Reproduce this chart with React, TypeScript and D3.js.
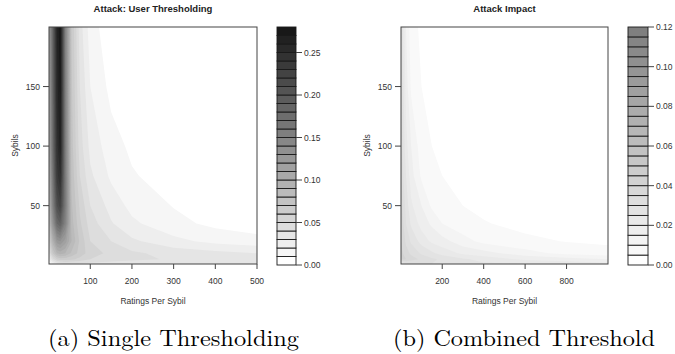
import React from "react";
import * as d3 from "d3";

// ---------- data ----------
const SYBILS = [1, 5, 10, 20, 35, 50, 75, 100, 150, 200];

const RATINGS_A = [1, 10, 20, 28, 40, 55, 75, 100, 150, 200, 300, 400, 500];
// rows follow SYBILS (bottom -> top), columns follow RATINGS_A
const IMPACT_A = [
  [0.010, 0.020, 0.030, 0.035, 0.038, 0.038, 0.037, 0.036, 0.035, 0.035, 0.034, 0.034, 0.034],
  [0.025, 0.045, 0.060, 0.065, 0.065, 0.062, 0.057, 0.050, 0.045, 0.042, 0.039, 0.037, 0.035],
  [0.040, 0.070, 0.090, 0.095, 0.090, 0.078, 0.066, 0.055, 0.047, 0.042, 0.036, 0.033, 0.030],
  [0.060, 0.095, 0.125, 0.130, 0.115, 0.090, 0.068, 0.050, 0.040, 0.032, 0.023, 0.017, 0.014],
  [0.080, 0.130, 0.180, 0.190, 0.150, 0.085, 0.062, 0.045, 0.031, 0.022, 0.013, 0.0075, 0.004],
  [0.090, 0.150, 0.210, 0.225, 0.160, 0.082, 0.058, 0.040, 0.026, 0.017, 0.0095, 0.005, 0.002],
  [0.100, 0.165, 0.235, 0.250, 0.160, 0.078, 0.050, 0.032, 0.018, 0.011, 0.005, 0.002, 0.000],
  [0.110, 0.175, 0.245, 0.265, 0.158, 0.075, 0.045, 0.027, 0.014, 0.008, 0.003, 0.001, 0.000],
  [0.115, 0.180, 0.255, 0.272, 0.155, 0.072, 0.040, 0.020, 0.007, 0.002, 0.000, 0.000, 0.000],
  [0.120, 0.185, 0.260, 0.278, 0.152, 0.070, 0.035, 0.015, 0.003, 0.000, 0.000, 0.000, 0.000],
];

const RATINGS_B = [1, 10, 25, 50, 100, 150, 200, 300, 400, 600, 800, 1000];
const IMPACT_B = [
  [0.020, 0.025, 0.028, 0.030, 0.030, 0.030, 0.028, 0.027, 0.026, 0.025, 0.024, 0.022],
  [0.038, 0.041, 0.040, 0.037, 0.034, 0.031, 0.029, 0.026, 0.023, 0.019, 0.017, 0.015],
  [0.042, 0.040, 0.037, 0.034, 0.029, 0.026, 0.023, 0.019, 0.017, 0.012, 0.0085, 0.007],
  [0.040, 0.038, 0.034, 0.029, 0.023, 0.019, 0.017, 0.012, 0.0085, 0.006, 0.0048, 0.004],
  [0.039, 0.036, 0.030, 0.024, 0.018, 0.014, 0.010, 0.0068, 0.0053, 0.0037, 0.0025, 0.0016],
  [0.038, 0.034, 0.028, 0.021, 0.015, 0.009, 0.007, 0.005, 0.004, 0.002, 0.0012, 0.001],
  [0.037, 0.031, 0.025, 0.017, 0.009, 0.0065, 0.005, 0.0035, 0.002, 0.001, 0.0005, 0.0],
  [0.036, 0.029, 0.022, 0.015, 0.007, 0.005, 0.004, 0.002, 0.001, 0.0005, 0.0, 0.0],
  [0.034, 0.027, 0.018, 0.009, 0.005, 0.0035, 0.002, 0.001, 0.0, 0.0, 0.0, 0.0],
  [0.032, 0.025, 0.015, 0.007, 0.004, 0.002, 0.001, 0.0, 0.0, 0.0, 0.0, 0.0],
];

const X_TICKS_A = [100, 200, 300, 400, 500];
const X_TICKS_B = [200, 400, 600, 800];
const Y_TICKS = [50, 100, 150];
const KEY_TICKS_A = [0, 0.05, 0.1, 0.15, 0.2, 0.25];
const KEY_TICKS_B = [0, 0.02, 0.04, 0.06, 0.08, 0.1, 0.12];

const TITLE_A = "Attack: User Thresholding";
const TITLE_B = "Attack Impact";
const X_LABEL = "Ratings Per Sybil";
const Y_LABEL = "Sybils";
const CAPTION_A = "(a) Single Thresholding";
const CAPTION_B = "(b) Combined Threshold";

const SANS = "'Liberation Sans', Arial, sans-serif";
const SERIF = "'Latin Modern Roman', 'DejaVu Serif', 'Liberation Serif', serif";

type PanelProps = {
  id: string;
  xs: number[];
  ys: number[];
  values: number[][];
  xDomain: [number, number];
  plotLeft: number;
  plotRight: number;
  keyLeft: number;
  keyRight: number;
  keyMax: number;
  step: number;
  darkest: string;
  xTicks: number[];
  keyTicks: number[];
  title: string;
  caption: string;
  captionWidth: number;
  captionX: number;
};

const TOP = 27;
const BOTTOM = 264;

function Panel(p: PanelProps) {
  const x = d3.scaleLinear().domain(p.xDomain).range([p.plotLeft, p.plotRight]);
  const y = d3.scaleLinear().domain([1, 200]).range([BOTTOM, TOP]);
  const nx = p.xs.length;
  const ny = p.ys.length;
  const flat: number[] = [];
  for (let j = 0; j < ny; j++) for (let i = 0; i < nx; i++) flat.push(p.values[j][i]);

  const nBands = Math.round(p.keyMax / p.step);
  const levels = d3.range(1, nBands).map((k) => +(k * p.step).toFixed(5));
  const color = (k: number) => d3.interpolateRgb("#ffffff", p.darkest)(k / (nBands - 1));

  const contours = d3.contours().size([nx, ny]).thresholds(levels)(flat);

  const ix = d3.scaleLinear().domain(p.xs.map((_, i) => i)).range(p.xs).clamp(true);
  const iy = d3.scaleLinear().domain(p.ys.map((_, i) => i)).range(p.ys).clamp(true);
  const fx = (c: number) => x(ix(Math.max(0, Math.min(nx - 1, c - 0.5))));
  const fy = (c: number) => y(iy(Math.max(0, Math.min(ny - 1, c - 0.5))));

  const toPath = (geom: any) =>
    geom.coordinates
      .map((poly: number[][][]) =>
        poly
          .map((ring) => "M" + ring.map(([a, b]) => `${fx(a).toFixed(2)},${fy(b).toFixed(2)}`).join("L") + "Z")
          .join("")
      )
      .join("");

  const ky = d3.scaleLinear().domain([0, p.keyMax]).range([BOTTOM + 1, TOP]);
  const bands = d3.range(nBands);
  const cx = (p.plotLeft + p.plotRight) / 2;
  const clipId = `clip-${p.id}`;

  return (
    <g>
      <defs>
        <clipPath id={clipId}>
          <rect x={p.plotLeft} y={TOP} width={p.plotRight - p.plotLeft} height={BOTTOM - TOP} />
        </clipPath>
      </defs>
      <rect x={p.plotLeft} y={TOP} width={p.plotRight - p.plotLeft} height={BOTTOM - TOP} fill="#ffffff" />
      <g clipPath={`url(#${clipId})`}>
        {contours.map((c, i) => (
          <path key={i} d={toPath(c)} fill={color(Math.round(c.value / p.step))} fillRule="evenodd" />
        ))}
      </g>
      <rect
        x={p.plotLeft}
        y={TOP}
        width={p.plotRight - p.plotLeft}
        height={BOTTOM - TOP}
        fill="none"
        stroke="#444"
        strokeWidth={1}
      />
      {/* x axis */}
      {p.xTicks.map((t) => (
        <g key={t}>
          <line x1={x(t)} x2={x(t)} y1={BOTTOM} y2={BOTTOM + 5} stroke="#444" />
          <text x={x(t)} y={284} fontSize={8.5} textAnchor="middle" fill="#333" fontFamily={SANS}>
            {t}
          </text>
        </g>
      ))}
      {/* y axis */}
      {Y_TICKS.map((t) => (
        <g key={t}>
          <line x1={p.plotLeft - 6} x2={p.plotLeft} y1={y(t)} y2={y(t)} stroke="#444" />
          <text x={p.plotLeft - 9} y={y(t) + 3} fontSize={8.5} textAnchor="end" fill="#333" fontFamily={SANS}>
            {t}
          </text>
        </g>
      ))}
      <text
        transform={`translate(${p.plotLeft - 31},${(TOP + BOTTOM) / 2}) rotate(-90)`}
        fontSize={8.5}
        textAnchor="middle"
        fill="#333"
        fontFamily={SANS}
      >
        {Y_LABEL}
      </text>
      <text x={cx} y={304} fontSize={8.5} textAnchor="middle" fill="#333" fontFamily={SANS}>
        {X_LABEL}
      </text>
      <text x={cx} y={12} fontSize={9.5} fontWeight="bold" textAnchor="middle" fill="#222" fontFamily={SANS}>
        {p.title}
      </text>
      {/* key */}
      {bands.map((k) => (
        <rect
          key={k}
          x={p.keyLeft}
          y={ky((k + 1) * p.step)}
          width={p.keyRight - p.keyLeft}
          height={ky(k * p.step) - ky((k + 1) * p.step)}
          fill={color(k)}
          stroke="#1a1a1a"
          strokeWidth={0.9}
        />
      ))}
      {p.keyTicks.map((t) => (
        <g key={t}>
          <line x1={p.keyRight} x2={p.keyRight + 6} y1={ky(t)} y2={ky(t)} stroke="#444" />
          <text x={p.keyRight + 8} y={ky(t) + 3} fontSize={8.5} fill="#333" fontFamily={SANS}>
            {t.toFixed(2)}
          </text>
        </g>
      ))}
      <text
        x={p.captionX}
        y={346}
        fontSize={23}
        textAnchor="middle"
        fill="#000"
        fontFamily={SERIF}
        textLength={p.captionWidth}
        lengthAdjust="spacingAndGlyphs"
      >
        {p.caption}
      </text>
    </g>
  );
}

export default function App() {
  return (
    <svg
      width={675}
      height={354}
      style={{ position: "fixed", left: 0, top: 0, background: "#fff" }}
    >
      <rect width={675} height={354} fill="#fff" />
      <Panel
        id="a"
        xs={RATINGS_A}
        ys={SYBILS}
        values={IMPACT_A}
        xDomain={[1, 500]}
        plotLeft={49}
        plotRight={257}
        keyLeft={277}
        keyRight={296}
        keyMax={0.28}
        step={0.01}
        darkest="#181818"
        xTicks={X_TICKS_A}
        keyTicks={KEY_TICKS_A}
        title={TITLE_A}
        caption={CAPTION_A}
        captionWidth={251}
        captionX={173.5}
      />
      <Panel
        id="b"
        xs={RATINGS_B}
        ys={SYBILS}
        values={IMPACT_B}
        xDomain={[1, 1000]}
        plotLeft={401}
        plotRight={608}
        keyLeft={628}
        keyRight={648}
        keyMax={0.12}
        step={0.005}
        darkest="#7f7f7f"
        xTicks={X_TICKS_B}
        keyTicks={KEY_TICKS_B}
        title={TITLE_B}
        caption={CAPTION_B}
        captionWidth={262}
        captionX={524}
      />
    </svg>
  );
}
